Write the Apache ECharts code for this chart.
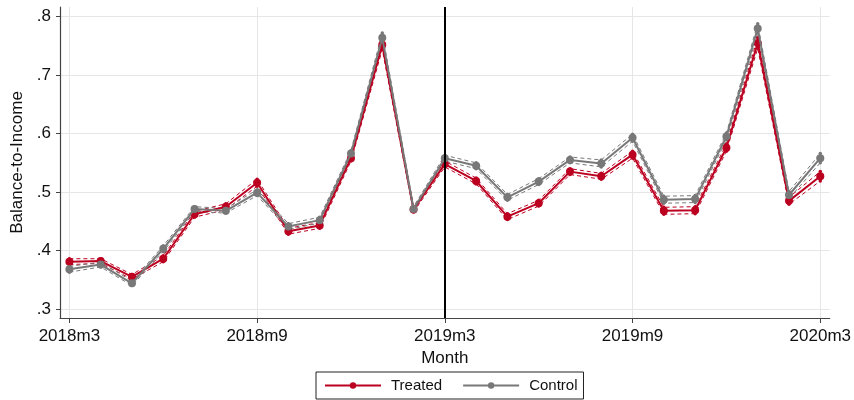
<!DOCTYPE html>
<html>
<head>
<meta charset="utf-8">
<script src="https://cdn.jsdelivr.net/npm/echarts@6/dist/echarts.min.js"></script>
<style>html,body{margin:0;padding:0;background:#fff;}#c{width:854px;height:400px;}</style>
</head>
<body>
<div id="c"></div>
<script>
const months = ['2018m3','2018m4','2018m5','2018m6','2018m7','2018m8','2018m9','2018m10','2018m11','2018m12',
  '2019m1','2019m2','2019m3','2019m4','2019m5','2019m6','2019m7','2019m8','2019m9','2019m10','2019m11','2019m12',
  '2020m1','2020m2','2020m3'];
const tickMonths = ['2018m3','2018m9','2019m3','2019m9','2020m3'];
const yTicks = [0.3,0.4,0.5,0.6,0.7,0.8];
const treated   = [0.381,0.382,0.355,0.386,0.462,0.475,0.516,0.433,0.443,0.558,0.752,0.470,0.548,0.519,0.458,0.481,0.535,0.527,0.564,0.468,0.469,0.576,0.755,0.485,0.527];
const treatedHi = [0.386,0.386,0.359,0.391,0.467,0.480,0.522,0.438,0.448,0.563,0.760,0.474,0.553,0.524,0.463,0.486,0.540,0.532,0.570,0.474,0.475,0.582,0.764,0.491,0.535];
const treatedLo = [0.376,0.378,0.351,0.381,0.457,0.470,0.510,0.428,0.438,0.553,0.744,0.466,0.543,0.514,0.453,0.476,0.530,0.522,0.558,0.462,0.463,0.570,0.746,0.479,0.519];
const control   = [0.368,0.376,0.344,0.403,0.471,0.468,0.499,0.441,0.452,0.566,0.764,0.471,0.558,0.545,0.491,0.518,0.555,0.549,0.593,0.487,0.488,0.595,0.780,0.495,0.558];
const controlHi = [0.373,0.380,0.348,0.408,0.475,0.472,0.504,0.446,0.457,0.571,0.772,0.475,0.563,0.550,0.496,0.523,0.560,0.555,0.599,0.493,0.494,0.601,0.788,0.501,0.566];
const controlLo = [0.363,0.372,0.340,0.398,0.467,0.464,0.494,0.436,0.447,0.561,0.756,0.467,0.553,0.540,0.486,0.513,0.550,0.543,0.587,0.481,0.482,0.589,0.772,0.489,0.550];

const RED = '#bb0020', GRAY = '#787878';
const pts = arr => arr.map((v,i)=>[i,v]);
const FONT = 'Liberation Sans, Arial, sans-serif';
const tickIdx = tickMonths.map(m=>months.indexOf(m));

function ci(name, data, color){
  return {name, type:'line', data:pts(data), symbol:'circle', symbolSize:3.5,
    lineStyle:{color, width:1, type:[4,3]}, itemStyle:{color}, silent:true, z:2, legendHoverLink:false};
}

const chart = echarts.init(document.getElementById('c'), null, {renderer:'canvas'});
chart.setOption({
  animation:false,
  backgroundColor:'#fff',
  textStyle:{fontFamily:FONT},
  grid:{left:60,right:21,top:7,bottom:82,containLabel:false},
  legend:{
    data:['Treated','Control'], left:316, top:372, orient:'horizontal',
    borderColor:'#222', borderWidth:1, borderRadius:0, padding:[6,6,6,8],
    itemWidth:56, itemHeight:8, itemGap:20,
    textStyle:{fontFamily:FONT, fontSize:15, color:'#111', padding:[0,0,0,5]}
  },
  xAxis:{
    type:'value', min:-0.3, max:24.3,
    name:'Month', nameLocation:'middle', nameGap:29,
    nameTextStyle:{fontFamily:FONT, fontSize:17, color:'#111'},
    axisLine:{show:true, onZero:false, lineStyle:{color:'#444', width:1.2}},
    axisTick:{show:true, length:5, lineStyle:{color:'#444'}, customValues:tickIdx},
    axisLabel:{fontFamily:FONT, fontSize:17, color:'#111', margin:10, customValues:tickIdx,
      formatter:v=>months[Math.round(v)]},
    splitLine:{show:true, lineStyle:{color:'#e6e6e6', width:1}}
  },
  yAxis:{
    type:'value', min:0.2846, max:0.8166,
    name:'Balance-to-Income', nameLocation:'middle', nameGap:31, nameRotate:90,
    nameTextStyle:{fontFamily:FONT, fontSize:17, color:'#111'},
    axisLine:{show:true, onZero:false, lineStyle:{color:'#444', width:1.2}},
    axisTick:{show:true, length:4, lineStyle:{color:'#444'}, customValues:yTicks},
    axisLabel:{fontFamily:FONT, fontSize:17, color:'#111', margin:9, customValues:yTicks,
      formatter:v=>v.toFixed(1).replace(/^0/,'')},
    splitLine:{show:true, lineStyle:{color:'#e6e6e6', width:1}}
  },
  series:[
    ci('tHi', treatedHi, RED), ci('tLo', treatedLo, RED),
    {name:'Treated', type:'line', data:pts(treated), symbol:'circle', symbolSize:8,
      lineStyle:{color:RED, width:2}, itemStyle:{color:RED}, z:3,
      markLine:{silent:true, symbol:'none', label:{show:false}, lineStyle:{color:'#000', width:2, type:'solid'},
        data:[{xAxis:months.indexOf('2019m3')}]}},
    ci('cHi', controlHi, GRAY), ci('cLo', controlLo, GRAY),
    {name:'Control', type:'line', data:pts(control), symbol:'circle', symbolSize:8,
      lineStyle:{color:GRAY, width:2}, itemStyle:{color:GRAY}, z:4}
  ]
});
</script>
</body>
</html>
